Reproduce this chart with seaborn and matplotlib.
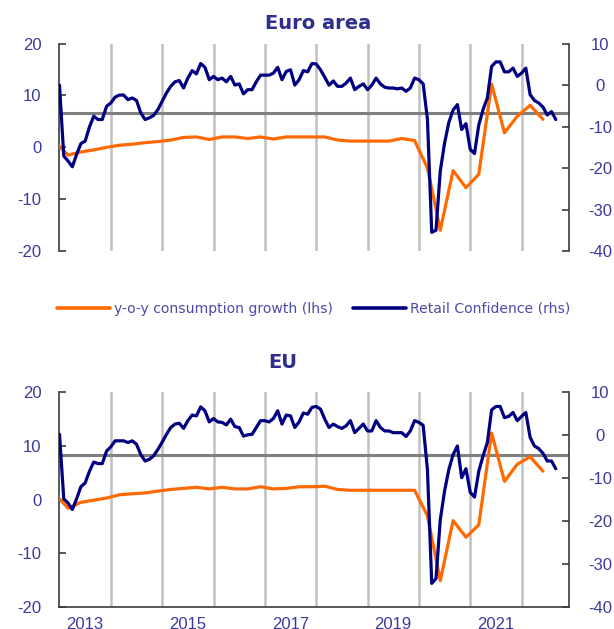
import numpy as np
import pandas as pd
import matplotlib
matplotlib.use("Agg")
import matplotlib.pyplot as plt
import seaborn as sns
from matplotlib.lines import Line2D
from matplotlib.transforms import blended_transform_factory

sns.set_theme(style="white")
plt.rcParams['font.family'] = ['Liberation Sans', 'DejaVu Sans']
plt.rcParams['axes.unicode_minus'] = False

# ---------------- data ----------------
start_month = "2013-01"
# Retail confidence (rhs), monthly from Jan 2013
ea_retail = [0.0, -17.1, -18.3, -19.7, -16.7, -14.1, -13.5, -10.1, -7.5, -8.3, -8.3, -5.1,
             -4.3, -2.9, -2.4, -2.4, -3.5, -3.1, -3.7, -6.7, -8.3, -7.9, -7.3, -5.9,
             -3.9, -1.9, -0.3, 0.8, 1.1, -0.7, 1.7, 3.5, 2.7, 5.2, 4.3, 1.3,
             2.1, 1.3, 1.7, 0.8, 2.1, 0.0, 0.3, -2.1, -1.1, -1.1, 0.8, 2.4,
             2.4, 2.4, 2.9, 4.3, 1.3, 3.3, 3.7, 0.0, 1.3, 3.5, 3.2, 5.2,
             5.1, 3.7, 1.9, 0.0, 1.0, -0.3, -0.3, 0.5, 1.7, -1.1, -0.3, 0.3,
             -1.1, 0.0, 1.7, 0.3, -0.5, -0.7, -0.7, -0.9, -0.7, -1.5, -0.7, 1.7,
             1.3, 0.3, -8.2, -35.5, -35.0, -20.7, -14.0, -9.0, -6.0, -4.7, -10.7, -9.3,
             -15.5, -16.5, -9.6, -5.9, -3.1, 4.5, 5.6, 5.6, 3.2, 3.2, 4.1, 2.1,
             2.9, 4.1, -2.3, -3.7, -4.3, -5.3, -7.2, -6.4, -8.3]
eu_retail = [0.2, -14.8, -15.8, -17.3, -14.8, -12.0, -11.1, -8.4, -6.25, -6.6, -6.6, -3.7,
             -2.7, -1.3, -1.3, -1.3, -1.7, -1.3, -2.1, -4.5, -6.0, -5.6, -4.8, -3.3,
             -1.6, 0.2, 1.8, 2.6, 2.8, 1.6, 3.4, 4.7, 4.5, 6.6, 5.7, 3.1,
             3.9, 3.1, 3.0, 2.4, 3.75, 2.0, 1.8, -0.2, 0.1, 0.2, 1.8, 3.4,
             3.4, 3.1, 3.9, 5.7, 2.6, 4.7, 4.5, 1.8, 3.1, 5.2, 4.9, 6.5,
             6.7, 6.1, 3.75, 1.8, 2.6, 2.0, 1.6, 2.2, 3.4, 0.6, 1.6, 2.6,
             1.0, 1.0, 3.4, 1.8, 1.0, 1.0, 0.6, 0.6, 0.6, -0.3, 1.0, 3.4,
             3.0, 2.3, -8.0, -34.5, -33.4, -19.7, -13.0, -8.0, -4.5, -2.5, -9.9, -7.8,
             -13.3, -14.4, -8.4, -4.8, -1.7, 5.9, 6.7, 6.7, 4.1, 4.4, 5.3, 3.4,
             4.4, 5.3, -0.5, -2.5, -3.1, -4.2, -6.0, -6.0, -7.8]

# y-o-y consumption growth (lhs), quarterly from Q4 2012
start_quarter = "2012Q4"
ea_cons = [1.0, -1.5, -0.9, -0.5, 0.0, 0.4, 0.6, 0.9, 1.1, 1.4, 1.9, 2.0, 1.5,
           2.0, 2.0, 1.7, 2.0, 1.6, 2.0, 2.0, 2.0, 2.0, 1.4, 1.2, 1.2, 1.2, 1.2,
           1.7, 1.3, -4.0, -16.0, -4.5, -7.8, -5.2, 12.2, 2.8, 6.0, 8.1, 5.4]
eu_cons = [1.0, -1.6, -0.5, -0.1, 0.3, 0.9, 1.1, 1.25, 1.6, 1.9, 2.1, 2.3, 2.0,
           2.3, 2.0, 2.0, 2.4, 2.0, 2.1, 2.4, 2.4, 2.5, 1.9, 1.75, 1.75, 1.75, 1.75,
           1.75, 1.75, -3.0, -15.1, -3.9, -7.0, -4.7, 12.4, 3.4, 6.6, 8.0, 5.3]

# long-term average of retail confidence (rhs)
ea_avg = -6.65
eu_avg = -4.7

panel_titles = ["Euro area", "EU"]
legend_labels = ["y-o-y consumption growth (lhs)", "Retail Confidence (rhs)"]
year_labels = ["2013", "2015", "2017", "2019", "2021"]
lhs_ticks = [-20, -10, 0, 10, 20]
rhs_ticks = [-40, -30, -20, -10, 0, 10]

# ---------------- helpers ----------------
base = pd.Period(start_month, freq="M")

def monthly_df(vals):
    per = pd.period_range(start_month, periods=len(vals), freq="M")
    x = [(p - base).n for p in per]
    return pd.DataFrame({"x": x, "v": vals})

def quarterly_df(vals):
    per = pd.period_range(start_quarter, periods=len(vals), freq="Q")
    x = [(p.asfreq("M", "end") - base).n for p in per]
    return pd.DataFrame({"x": x, "v": vals})

ORANGE = "#ff6a00"
NAVY = "#000080"
TXT = "#3a3a9c"
SPINE = "#3c3c3c"

fig = plt.figure(figsize=(6.14, 6.29), dpi=100)
ax_top = fig.add_axes([0.0969, 0.601, 0.8306, 0.3296])
ax_bot = fig.add_axes([0.0969, 0.035, 0.8306, 0.3413])

panels = [(ax_top, ea_cons, ea_retail, ea_avg, False),
          (ax_bot, eu_cons, eu_retail, eu_avg, True)]

handles = None
for ax, cons, retail, avg, show_x in panels:
    axr = ax.twinx()
    ax.set_xlim(0, 119.2)
    ax.set_ylim(-20, 20)
    axr.set_ylim(-40, 10)
    ax.set_yticks(lhs_ticks)
    axr.set_yticks(rhs_ticks)

    # vertical year gridlines
    ax.set_xticks(np.arange(12, 119, 12), minor=True)
    ax.grid(which="minor", axis="x", color="#c0c0c0", lw=1.8)
    ax.grid(which="major", visible=False)
    ax.tick_params(axis="x", which="minor", length=0)

    # reference line (rhs value) drawn under the series
    tr = blended_transform_factory(ax.transAxes, axr.transData)
    ax.add_line(Line2D([0, 1], [avg, avg], transform=tr, color="#808080",
                       lw=2.2, zorder=1.5))

    dq = quarterly_df(cons)
    dm = monthly_df(retail)
    sns.lineplot(data=dq, x="x", y="v", ax=ax, color=ORANGE, lw=2.3, zorder=3)
    sns.lineplot(data=dm, x="x", y="v", ax=axr, color=NAVY, lw=2.3, zorder=3)
    ax.set_xlim(0, 119.2)
    ax.set_xlabel("")
    ax.set_ylabel("")
    axr.set_ylabel("")

    for s in ["top", "right"]:
        ax.spines[s].set_visible(False)
    ax.spines["bottom"].set_visible(show_x)
    ax.spines["left"].set_color(SPINE)
    ax.spines["left"].set_linewidth(1.2)
    ax.spines["bottom"].set_color(SPINE)
    ax.spines["bottom"].set_linewidth(1.2)
    for s in ["top", "left", "bottom"]:
        axr.spines[s].set_visible(False)
    axr.spines["right"].set_color(SPINE)
    axr.spines["right"].set_linewidth(1.2)

    ax.tick_params(axis="y", direction="in", length=5, width=1.2, color=SPINE,
                   labelsize=12, labelcolor=TXT, pad=13, left=True)
    axr.tick_params(axis="y", direction="in", length=5, width=1.2, color=SPINE,
                    labelsize=12, labelcolor=TXT, pad=22, right=True)
    for lab in axr.get_yticklabels():
        lab.set_horizontalalignment("center")

    if show_x:
        ax.set_xticks([6, 30, 54, 78, 102])
        ax.set_xticklabels(year_labels)
        ax.tick_params(axis="x", which="major", length=0, labelsize=12,
                       labelcolor=TXT, pad=7, bottom=True)
    else:
        ax.set_xticks([])
    if handles is None:
        handles = [Line2D([], [], color=ORANGE, lw=2.6),
                   Line2D([], [], color=NAVY, lw=2.6)]

fig.text(0.518, 1 - 23.5 / 629, panel_titles[0], ha="center", va="center",
         fontsize=14, fontweight="bold", color="#2e2e8e", family="DejaVu Sans")
fig.text(0.461, 1 - 362 / 629, panel_titles[1], ha="center", va="center",
         fontsize=14, fontweight="bold", color="#2e2e8e", family="DejaVu Sans")

leg = fig.legend(handles, legend_labels, loc="center",
                 bbox_to_anchor=(0.511, 1 - 309 / 629), ncol=2, frameon=False,
                 prop={"family": "DejaVu Sans", "size": 10.1},
                 handlelength=3.8, handletextpad=0.3,
                 columnspacing=1.4, labelcolor="#4b4bab")

fig.savefig("out.png", dpi=100)
